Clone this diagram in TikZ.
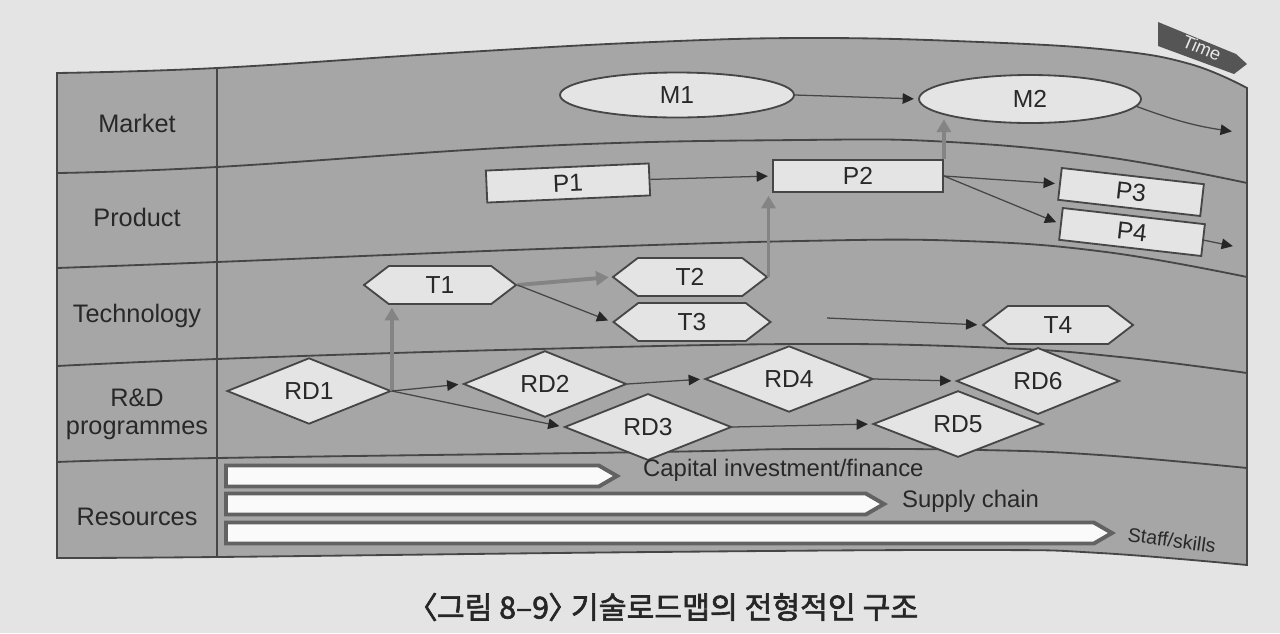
\documentclass[tikz,border=0pt]{standalone}
\usepackage{fontspec}
\setmainfont{Liberation Sans}
\newfontfamily\cjkfont[FakeBold=2,RawFeature=+palt]{Noto Sans CJK KR}
\usetikzlibrary{shapes.geometric,shapes.symbols,arrows.meta,calc}
\newcommand\pxu{0.025cm}
\definecolor{pagebg}{RGB}{228,228,228}
\definecolor{bandfill}{RGB}{166,166,166}
\definecolor{edgec}{RGB}{70,70,70}
\definecolor{boxfill}{RGB}{228,228,228}
\definecolor{arrgray}{RGB}{132,132,132}
\definecolor{txtc}{RGB}{40,40,40}
\definecolor{tabfill}{RGB}{85,85,85}
\begin{document}
\begin{tikzpicture}[x=0.025cm,y=-0.025cm,
  rowlabel/.style={font=\fontsize{18}{20}\selectfont, text=txtc, align=center},
  nodelbl/.style={font=\fontsize{17.5}{20}\selectfont, text=txtc, fill=boxfill, draw=edgec, line width=1.3pt, inner sep=0pt},
  mkt/.style={nodelbl, ellipse, minimum width=230*\pxu, minimum height=45*\pxu},
  prod/.style={nodelbl, rectangle, minimum height=32*\pxu},
  tech/.style={nodelbl, signal, signal to=east and west, signal pointer angle=75, minimum width=152*\pxu, minimum height=38*\pxu},
  rdnode/.style={nodelbl, diamond, minimum width=165*\pxu, minimum height=42*\pxu},
  resbar/.style={signal, signal to=east, signal pointer angle=60, fill=white!96!gray, draw=edgec!85, line width=2.8pt, minimum height=21*\pxu, inner sep=0pt, anchor=west},
  reslbl/.style={font=\fontsize{17}{20}\selectfont, text=txtc, anchor=west, inner sep=0pt},
  divider/.style={draw=edgec, line width=1.3pt},
  blk/.style={draw=edgec, line width=0.9pt, shorten >=3pt, -{Triangle[length=8pt,width=7.5pt,color=black!85]}},
  gry/.style={draw=arrgray, line width=2.8pt, shorten >=2pt, -{Triangle[length=9pt,width=10pt]}},
]
\useasboundingbox (0,0) rectangle (1280,633);
\fill[pagebg] (0,0) rectangle (1280,633);

% band body
\path[fill=bandfill, draw=edgec, line width=1.3pt]
  plot[smooth, tension=0.7] coordinates {(57,73) (217,68) (450,53) (653,42) (816,38) (980,42) (1110,50) (1190,64) (1247,88)}
  -- plot[smooth, tension=0.7] coordinates {(1247,565) (1100,553) (980,550) (653,552) (217,557) (57,558)}
  -- cycle;
% dividers
\draw[divider] plot[smooth, tension=0.7] coordinates {(57,173) (217,167) (540,146) (800,140) (950,142) (1106,157) (1247,183)};
\draw[divider] plot[smooth, tension=0.7] coordinates {(57,268) (217,262) (540,249) (800,241) (965,241) (1106,252) (1247,277)};
\draw[divider] plot[smooth, tension=0.7] coordinates {(57,366) (217,359) (500,350) (800,344) (1000,348) (1120,357) (1247,373)};
\draw[divider] plot[smooth, tension=0.7] coordinates {(57,462) (217,458) (653,452) (800,449) (980,450) (1100,455) (1247,468)};
\draw[divider] (217,68) -- (217,557);

% Time tab
\fill[tabfill] (1158,22) -- (1236,54) -- (1247,64) -- (1234,74) -- (1158,46) -- cycle;
\node[rotate=-23, text=white!82!gray, font=\fontsize{13}{15}\selectfont, inner sep=0pt] (timelbl) at (1202,48) {Time};

% row labels
\node[rowlabel] (lmarket) at (137,123) {Market};
\node[rowlabel] (lproduct) at (137,217) {Product};
\node[rowlabel] (ltech) at (137,316) {Technology};
\node[rowlabel] (lrd) at (137,414) {R\&D\\programmes};
\node[rowlabel] (lres) at (137,517) {Resources};

% market
\node[mkt, minimum width=234*\pxu] (M1) at (677,95) {M1};
\node[mkt, minimum width=222*\pxu, minimum height=48*\pxu] (M2) at (1030,99) {M2};
\coordinate (Mout) at (1236,132);

% product
\node[prod, minimum width=163*\pxu, rotate=2.5] (P1) at (568,183) {P1};
\node[prod, minimum width=170*\pxu] (P2) at (858,176) {P2};
\node[prod, minimum width=143*\pxu, rotate=-6.5] (P3) at (1131,192) {P3};
\node[prod, minimum width=143*\pxu, rotate=-6.5] (P4) at (1132,232) {P4};
\coordinate (Pout) at (1237,247);

% technology
\node[tech] (T1) at (440,285) {T1};
\node[tech, minimum width=154*\pxu] (T2) at (690,277) {T2};
\node[tech, minimum width=157*\pxu] (T3) at (692,322) {T3};
\node[tech, minimum width=150*\pxu] (T4) at (1058,325) {T4};
\coordinate (T4in) at (827,318);

% R&D
\node[rdnode, minimum width=164*\pxu] (RD1) at (309,391) {RD1};
\node[rdnode, minimum width=163*\pxu] (RD2) at (545,384) {RD2};
\node[rdnode, minimum width=167*\pxu, minimum height=44*\pxu] (RD3) at (648,427) {RD3};
\node[rdnode, minimum width=168*\pxu] (RD4) at (789,379) {RD4};
\node[rdnode, minimum width=170*\pxu] (RD5) at (958,424) {RD5};
\node[rdnode, minimum width=163*\pxu] (RD6) at (1038,381) {RD6};

% resources
\node[resbar, minimum width=391*\pxu] (R1) at (224,476) {};
\node[resbar, minimum width=658*\pxu] (R2) at (224,504) {};
\node[resbar, minimum width=886*\pxu] (R3) at (224,533) {};
\node[reslbl] (R1l) at ($(R1.east)+(22,-6)$) {Capital investment/finance};
\node[reslbl] (R2l) at ($(R2.east)+(14,-3)$) {Supply chain};
\node[reslbl, rotate=-8, font=\fontsize{14}{16}\selectfont] (R3l) at ($(R3.east)+(12,1)$) {Staff/skills};

% connectors
\draw[blk] (M1.east) -- (M2.west);
\draw[blk] (M2.-4) to[bend right=6] (Mout);
\draw[blk] (P1.east) -- (P2.west);
\draw[blk] (P2.east) -- (P3.west);
\draw[blk] (P2.east) -- (P4.west);
\draw[blk] (P4.east) -- (Pout);
\draw[gry] (P2.north east) -- (P2.north east |- M2.south west);
\draw[gry] (T2.east) -- (T2.east |- P2.south west);
\draw[gry] (T1.east) -- (T2.west);
\draw[blk] (T1.east) -- (T3.west);
\draw[blk] (T4in) -- (T4.west);
\draw[gry] (RD1.east) -- (RD1.east |- T1.south);
\draw[blk] (RD1.east) -- (RD2.west);
\draw[blk] (RD1.east) -- (RD3.west);
\draw[blk] (RD2.east) -- (RD4.west);
\draw[blk] (RD3.east) -- (RD5.west);
\draw[blk] (RD4.east) -- (RD6.west);

% caption
\node[font=\cjkfont\fontsize{21.5}{24}\selectfont, text=black!85] (cap) at (670,607) {〈그림 8–9〉 기술로드맵의 전형적인 구조};
\end{tikzpicture}
\end{document}
